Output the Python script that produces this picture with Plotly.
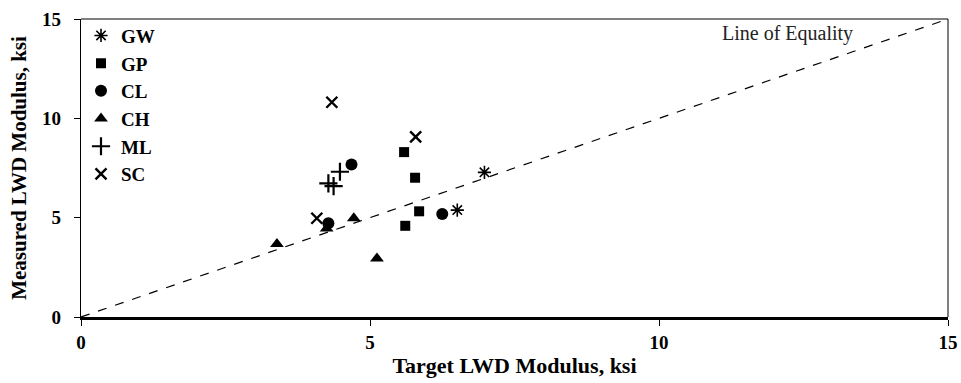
import plotly.graph_objects as go

# ---- data ----
gw_x = [6.98, 6.51]
gw_y = [7.28, 5.38]
gp_x = [5.59, 5.78, 5.85, 5.61]
gp_y = [8.30, 7.01, 5.32, 4.59]
cl_x = [6.25, 4.68, 4.28]
cl_y = [5.18, 7.68, 4.72]
ch_x = [4.72, 5.12, 4.25, 3.39]
ch_y = [4.97, 2.95, 4.46, 3.67]
ml_x = [4.48, 4.28, 4.37]
ml_y = [7.31, 6.73, 6.59]
sc_x = [4.34, 5.79, 4.08]
sc_y = [10.81, 9.07, 4.97]
eq_x = [0, 15]
eq_y = [0, 15]
x_ticks = [0, 5, 10, 15]
y_ticks = [0, 5, 10, 15]

FONT = "Liberation Serif"

fig = go.Figure()

series = [
    ("GW", gw_x, gw_y, "asterisk-open", 11, 1.6),
    ("GP", gp_x, gp_y, "square", 10, 0),
    ("CL", cl_x, cl_y, "circle", 12, 0),
    ("CH", ch_x, ch_y, "triangle-up", 12, 0),
    ("ML", ml_x, ml_y, "cross-thin-open", 13, 2.2),
    ("SC", sc_x, sc_y, "x-thin-open", 11, 2.4),
]
for name, xs, ys, sym, size, lw in series:
    fig.add_trace(go.Scatter(
        x=xs, y=ys, mode="markers", name=name, legendgroup=name,
        marker=dict(symbol=sym, size=size, color="black",
                    line=dict(color="black", width=lw)),
    ))

fig.add_trace(go.Scatter(
    x=eq_x, y=eq_y, mode="lines", showlegend=False,
    line=dict(color="black", width=1.2, dash="dash"),
))

fig.add_annotation(
    x=0.815, y=0.95, xref="paper", yref="paper", text="Line of Equality",
    showarrow=False, font=dict(family=FONT, size=20, color="#222"),
    xanchor="center", yanchor="middle",
)

# thin top and right borders
fig.add_shape(type="line", xref="paper", yref="paper", x0=0, x1=1, y0=1, y1=1,
              line=dict(color="black", width=1))
fig.add_shape(type="line", xref="paper", yref="paper", x0=1, x1=1, y0=0, y1=1,
              line=dict(color="black", width=1))

fig.update_layout(
    width=961, height=383,
    margin=dict(l=81, r=13, t=19, b=66),
    paper_bgcolor="white", plot_bgcolor="white",
    font=dict(family=FONT, color="black"),
    showlegend=True,
    legend=dict(
        x=0.0, y=1.008, xanchor="left", yanchor="top",
        bgcolor="rgba(0,0,0,0)", tracegroupgap=0,
        font=dict(family=FONT, size=19, color="black", weight="bold"),
        itemwidth=30,
    ),
    xaxis=dict(
        range=[0, 15], tickvals=x_ticks, ticktext=[str(v) for v in x_ticks],
        showgrid=False, zeroline=False, showline=True, linecolor="black",
        linewidth=2.5, ticks="outside", ticklen=6, tickwidth=1.2, tickcolor="black",
        tickfont=dict(family=FONT, size=19, weight="bold"),
        ticklabelstandoff=0, automargin=False,
        title=dict(text="<b>Target LWD Modulus, ksi</b>",
                   font=dict(family=FONT, size=22), standoff=7),
    ),
    yaxis=dict(
        range=[0, 15], tickvals=y_ticks, ticktext=[str(v) for v in y_ticks],
        showgrid=False, zeroline=False, showline=True, linecolor="black",
        linewidth=1.3, ticks="outside", ticklen=6, tickwidth=1.2, tickcolor="black",
        tickfont=dict(family=FONT, size=19, weight="bold"),
        ticklabelstandoff=9, automargin=False,
        title=dict(text="<b>Measured LWD Modulus, ksi</b>",
                   font=dict(family=FONT, size=21), standoff=9),
    ),
)

fig.write_html(
    "out.html",
    config={"displayModeBar": False},
    post_script="document.body.style.margin='0';document.body.style.overflow='hidden';",
)
